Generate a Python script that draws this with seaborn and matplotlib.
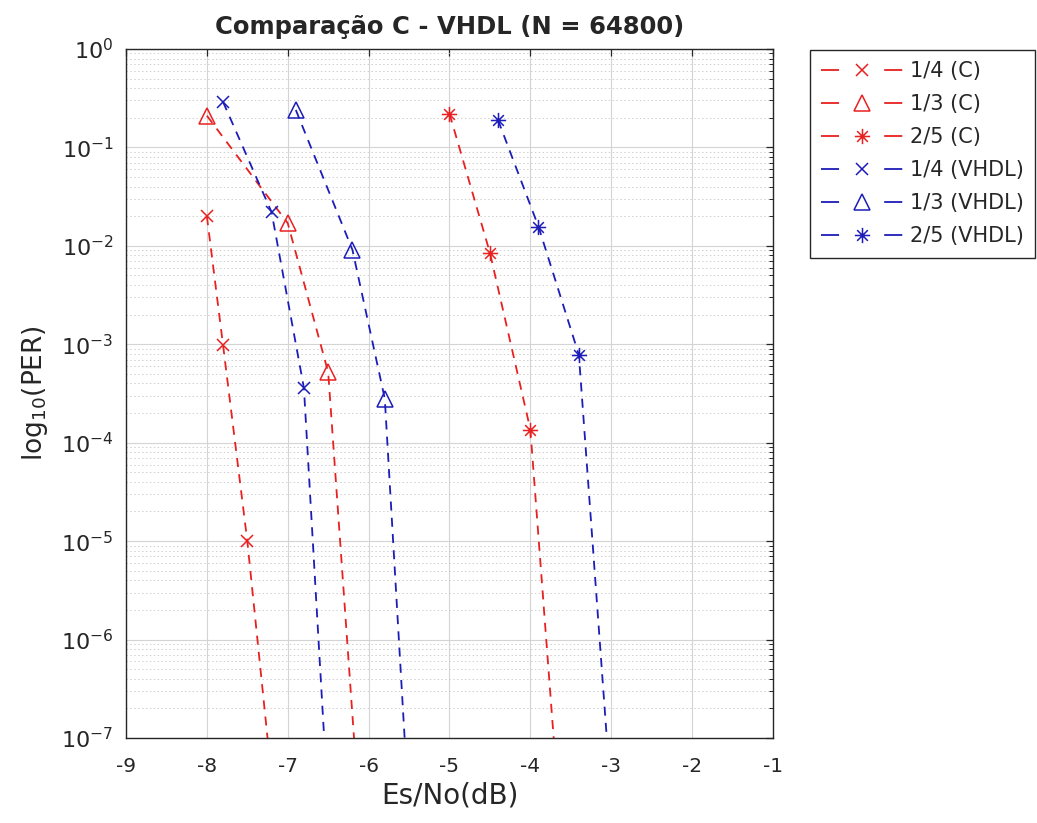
import numpy as np
import matplotlib
matplotlib.use("Agg")
import matplotlib.pyplot as plt
from matplotlib.path import Path
from matplotlib.ticker import LogLocator, NullFormatter, MultipleLocator
import seaborn as sns

# Dados (último ponto de cada curva fica abaixo de 1e-7)
x_14_c = [-8.0, -7.8, -7.5, -7.2]
per_14_c = [0.020, 9.8e-4, 1.0e-5, 4e-8]
x_13_c = [-8.0, -7.0, -6.5, -6.0]
per_13_c = [0.21, 0.017, 5.2e-4, 8e-10]
x_25_c = [-5.0, -4.5, -4.0, -3.5]
per_25_c = [0.22, 0.0085, 1.36e-4, 5e-10]

x_14_v = [-7.8, -7.2, -6.8, -6.5]
per_14_v = [0.29, 0.022, 3.6e-4, 2e-8]
x_13_v = [-6.9, -6.2, -5.8, -5.5]
per_13_v = [0.24, 0.0091, 2.8e-4, 1.7e-8]
x_25_v = [-4.4, -3.9, -3.4, -2.9]
per_25_v = [0.19, 0.0157, 7.8e-4, 1.8e-9]

labels = ["1/4 (C)", "1/3 (C)", "2/5 (C)", "1/4 (VHDL)", "1/3 (VHDL)", "2/5 (VHDL)"]

sns.set_theme(style="white")
plt.rcParams['font.family'] = ['DejaVu Sans']
plt.rcParams['mathtext.default'] = 'regular'
plt.rcParams['axes.unicode_minus'] = False

# asterisco estilo MATLAB
asterisco = Path(
    [(-1, 0), (1, 0), (0, -1), (0, 1), (-0.7, -0.7), (0.7, 0.7), (-0.7, 0.7), (0.7, -0.7)],
    [Path.MOVETO, Path.LINETO] * 4,
)

vermelho = '#e82020'
azul = '#1c1cb8'

series = [
    (x_14_c, per_14_c, 'x', vermelho, 9),
    (x_13_c, per_13_c, '^', vermelho, 11),
    (x_25_c, per_25_c, asterisco, vermelho, 11),
    (x_14_v, per_14_v, 'x', azul, 9),
    (x_13_v, per_13_v, '^', azul, 11),
    (x_25_v, per_25_v, asterisco, azul, 11),
]

fig = plt.figure(figsize=(10.37, 8.23), dpi=100)
ax = fig.add_axes([0.1215, 0.1033, 0.7454 - 0.1215, 0.9405 - 0.1033])
ax.set_yscale('log')

for (xs, ys, mk, cor, ms), lab in zip(series, labels):
    sns.lineplot(x=xs, y=ys, ax=ax, label=lab, color=cor, linestyle=(0, (5, 4)),
                 linewidth=1.3, marker=mk, markersize=ms, markerfacecolor='none',
                 markeredgecolor=cor, markeredgewidth=1.1, estimator=None, sort=False)

ax.set_xlim(-9, -1)
ax.set_ylim(1e-7, 1)
ax.xaxis.set_major_locator(MultipleLocator(1))
ax.yaxis.set_major_locator(LogLocator(base=10, numticks=10))
ax.yaxis.set_minor_locator(LogLocator(base=10, subs=np.arange(2, 10), numticks=100))
ax.yaxis.set_minor_formatter(NullFormatter())

ax.grid(True, which='major', color='#d4d4d4', linewidth=0.8, linestyle='-')
ax.grid(True, which='minor', axis='y', color='#cfcfcf', linewidth=0.7, linestyle=(0, (1.5, 2.5)))
ax.set_axisbelow(True)

for sp in ax.spines.values():
    sp.set_color('#262626')
    sp.set_linewidth(1.0)

ax.tick_params(axis='x', which='major', direction='in', top=True, length=5, width=0.9,
               labelsize=14.5, pad=14, colors='#262626', labelcolor='#262626')
ax.tick_params(axis='y', which='major', direction='in', right=True, length=5, width=0.9,
               labelsize=16, pad=9, colors='#262626', labelcolor='#262626')
ax.tick_params(axis='y', which='minor', direction='in', right=True, length=3, width=0.7,
               colors='#262626')

ax.set_xlabel('Es/No(dB)', fontsize=20, labelpad=4, color='#262626')
ax.set_ylabel('log$_{10}$(PER)', fontsize=19, labelpad=8, color='#262626')
ax.set_title('Comparação C - VHDL (N = 64800)', fontsize=17.5, fontweight='bold', pad=11)

leg = ax.legend(loc='upper left', bbox_to_anchor=(810 / 1037, 1 - 50 / 823),
                bbox_transform=fig.transFigure, fontsize=15, frameon=True,
                fancybox=False, edgecolor='#262626', framealpha=1, handlelength=3.9,
                labelspacing=0.62, borderpad=0.55, handletextpad=0.35, borderaxespad=0)
leg.get_frame().set_linewidth(1.0)
# traço longo - marcador - traço longo, como no MATLAB
for ln in leg.get_lines():
    ln.set_dashes((10, 25))
    ln.set_dash_capstyle('butt')

plt.savefig('out.png', dpi=100)
